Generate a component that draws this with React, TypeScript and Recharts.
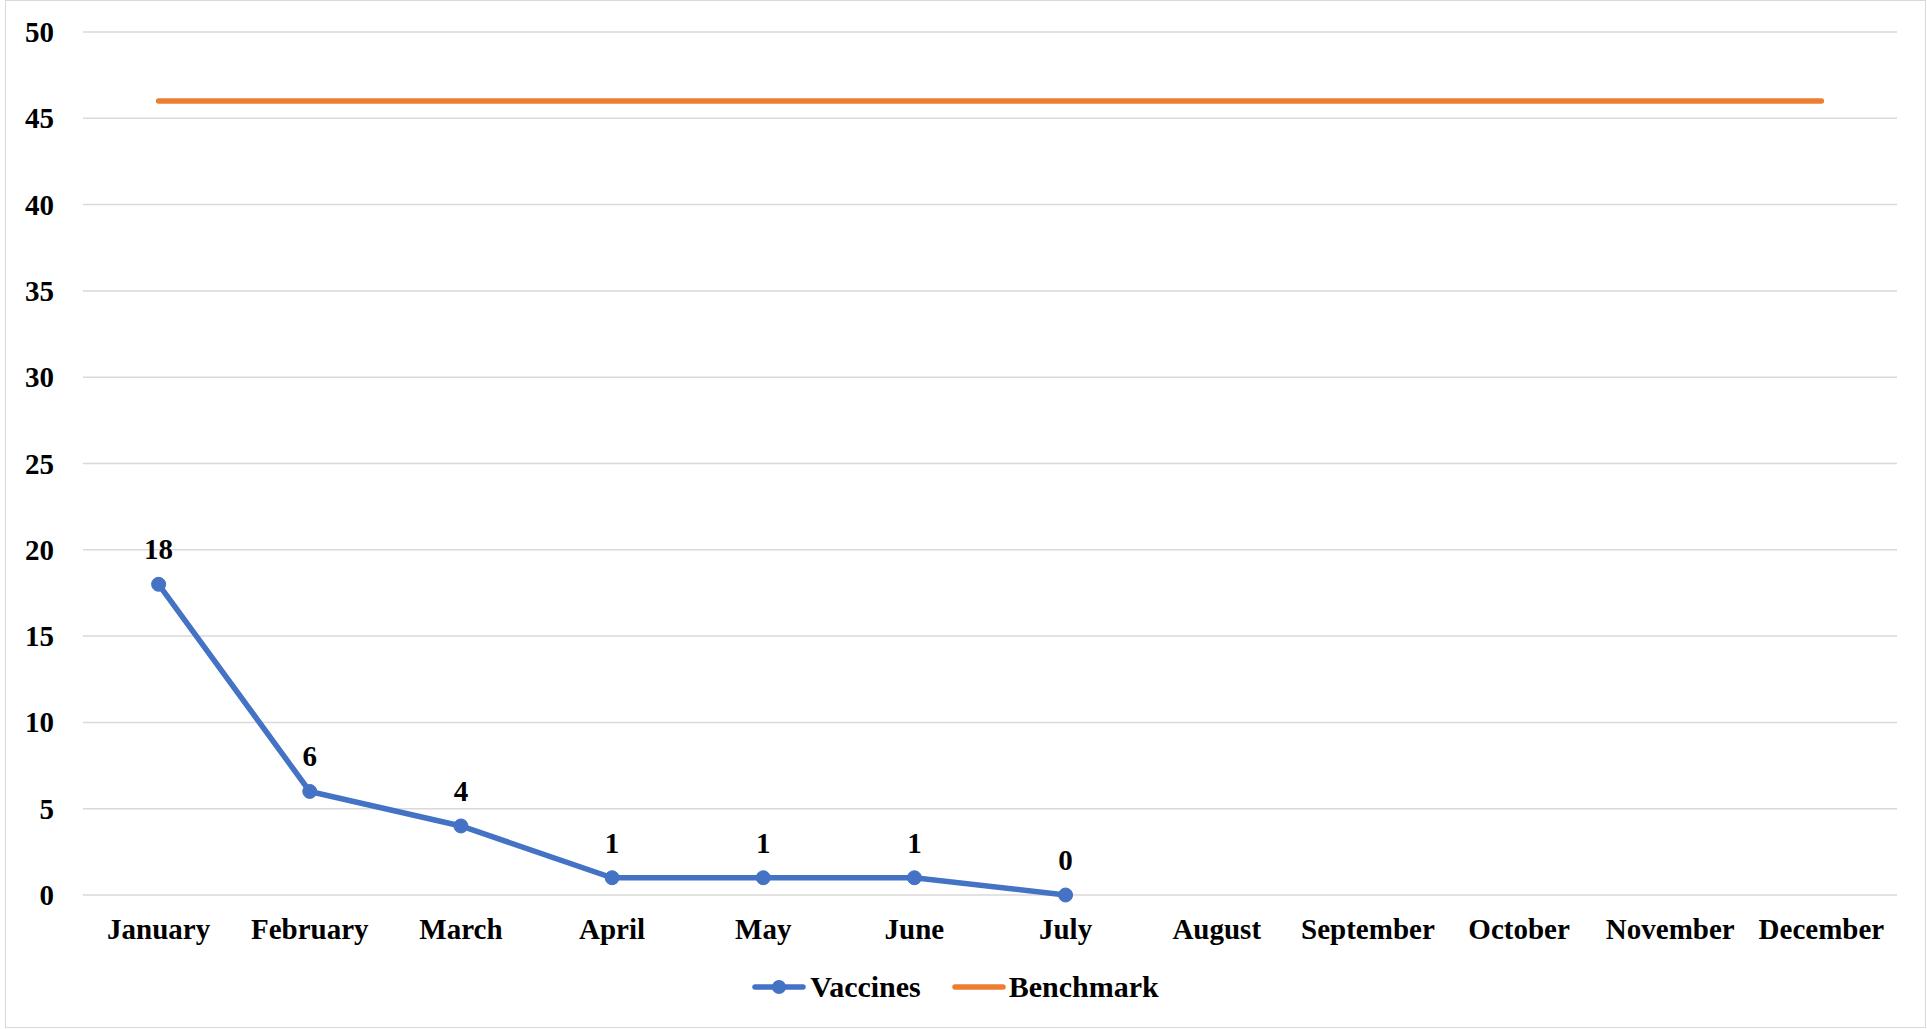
import React from "react";
import {
  LineChart,
  Line,
  XAxis,
  YAxis,
  CartesianGrid,
  Legend,
  LabelList,
} from "recharts";

const MONTHS = [
  "January",
  "February",
  "March",
  "April",
  "May",
  "June",
  "July",
  "August",
  "September",
  "October",
  "November",
  "December",
];
const VACCINES: (number | null)[] = [18, 6, 4, 1, 1, 1, 0, null, null, null, null, null];
const BENCHMARK = [46, 46, 46, 46, 46, 46, 46, 46, 46, 46, 46, 46];
const Y_TICKS = [0, 5, 10, 15, 20, 25, 30, 35, 40, 45, 50];

const BLUE = "#4472C4";
const ORANGE = "#ED7D31";
const FONT = "'Times New Roman', 'Liberation Serif', serif";

const data = MONTHS.map((m, i) => ({
  month: m,
  vaccines: VACCINES[i],
  benchmark: BENCHMARK[i],
}));

const XTick = ({ x, y, payload }: any) => (
  <text
    x={x}
    y={y + 44}
    textAnchor="middle"
    fontFamily={FONT}
    fontWeight="bold"
    fontSize={29}
    fill="#000"
  >
    {payload.value}
  </text>
);

const YTick = ({ x, y, payload }: any) => (
  <text
    x={x - 29}
    y={y + 10}
    textAnchor="end"
    fontFamily={FONT}
    fontWeight="bold"
    fontSize={29}
    fill="#000"
  >
    {payload.value}
  </text>
);

const LegendContent = () => (
  <div
    style={{
      display: "flex",
      justifyContent: "center",
      alignItems: "center",
      height: 50,
      fontFamily: FONT,
      fontWeight: "bold",
      fontSize: 30,
      color: "#000",
      paddingLeft: 14,
    }}
  >
    <svg width={54} height={16} style={{ marginRight: 4 }}>
      <line x1={3} y1={8} x2={51} y2={8} stroke={BLUE} strokeWidth={5.5} strokeLinecap="round" />
      <circle cx={27} cy={8} r={7} fill={BLUE} />
    </svg>
    <span style={{ marginRight: 31 }}>Vaccines</span>
    <svg width={54} height={16} style={{ marginRight: 3 }}>
      <line x1={3} y1={8} x2={51} y2={8} stroke={ORANGE} strokeWidth={5.5} strokeLinecap="round" />
    </svg>
    <span>Benchmark</span>
  </div>
);

export default function App() {
  return (
    <div
      style={{
        position: "absolute",
        left: 0,
        top: 0,
        width: 1927,
        height: 1029,
        background: "#fff",
      }}
    >
      <div
        style={{
          position: "absolute",
          left: 5,
          top: 0,
          width: 1919,
          height: 1026,
          border: "1.5px solid #d9d9d9",
          pointerEvents: "none",
        }}
      />
      <LineChart
        width={1927}
        height={1029}
        data={data}
        margin={{ top: 32, right: 30, bottom: 17, left: 0 }}
      >
        <CartesianGrid vertical={false} stroke="#d9d9d9" strokeWidth={1.5} />
        <XAxis
          dataKey="month"
          height={67}
          axisLine={false}
          tickLine={false}
          tickSize={0}
          tickMargin={0}
          padding={{ left: 75.6, right: 75.6 }}
          tick={<XTick />}
          interval={0}
        />
        <YAxis
          width={83}
          domain={[0, 50]}
          ticks={Y_TICKS}
          axisLine={false}
          tickLine={false}
          tickSize={0}
          tickMargin={0}
          tick={<YTick />}
          interval={0}
        />
        <Legend
          verticalAlign="bottom"
          content={<LegendContent />}
          wrapperStyle={{ height: 50 }}
        />
        <Line
          dataKey="vaccines"
          name="Vaccines"
          stroke={BLUE}
          strokeWidth={5.5}
          dot={{ r: 7, fill: BLUE, stroke: BLUE, strokeWidth: 1 }}
          activeDot={false}
          isAnimationActive={false}
        >
          <LabelList
            dataKey="vaccines"
            position="top"
            offset={25}
            fontFamily={FONT}
            fontWeight="bold"
            fontSize={29}
            fill="#000"
          />
        </Line>
        <Line
          dataKey="benchmark"
          name="Benchmark"
          stroke={ORANGE}
          strokeWidth={5.5}
          strokeLinecap="round"
          dot={false}
          activeDot={false}
          isAnimationActive={false}
        />
      </LineChart>
    </div>
  );
}
